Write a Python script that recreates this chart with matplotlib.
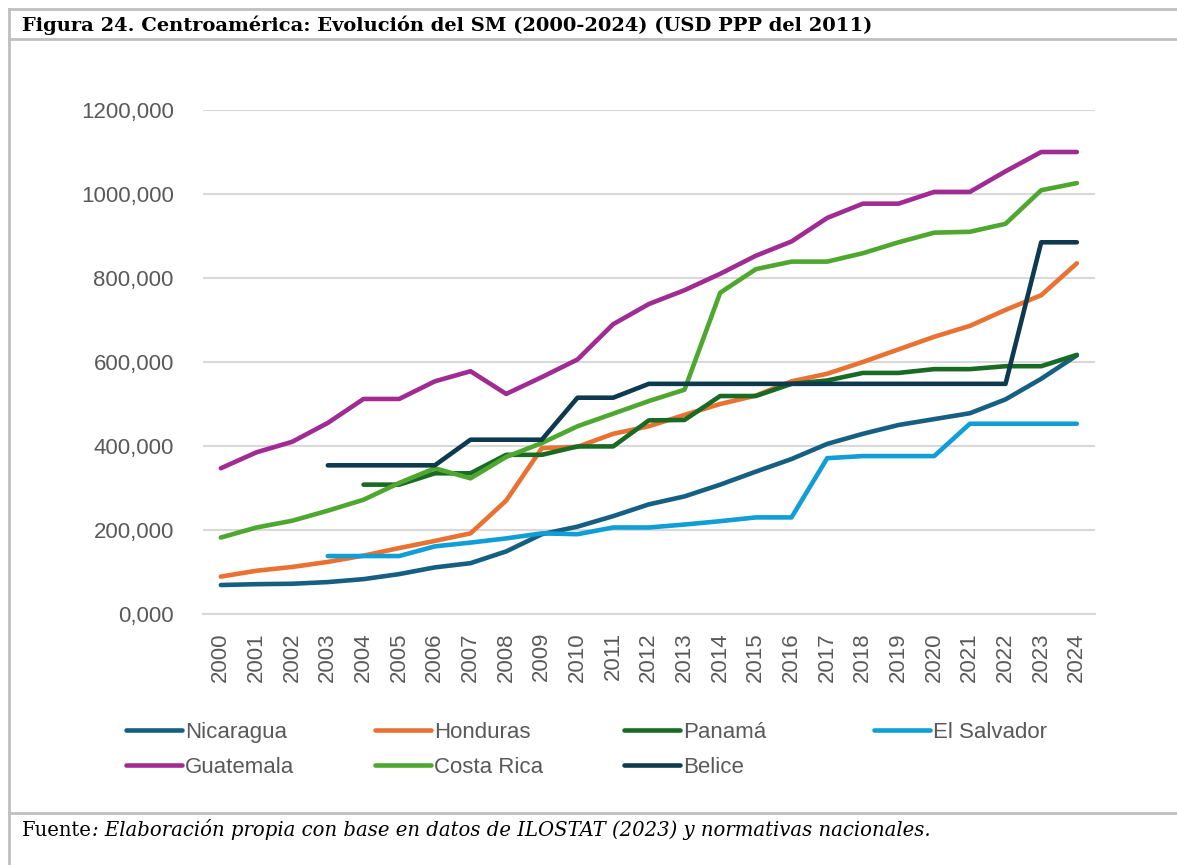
import numpy as np
import matplotlib.pyplot as plt
from matplotlib.lines import Line2D

nan = np.nan

#? Datos (USD PPP del 2011)
anios = [str(a) for a in range(2000, 2025)]
nicaragua = [69, 71, 72, 76, 83, 95, 111, 121, 149, 190, 208, 233, 261, 280, 308, 339, 369, 405, 429, 450, 464, 478, 511, 560, 616]
honduras = [89, 103, 112, 124, 139, 157, 174, 192, 270, 395, 398, 429, 447, 474, 500, 520, 554, 572, 600, 630, 660, 686, 724, 759, 835]
panama = [nan, nan, nan, nan, 308, 308, 335, 335, 379, 379, 399, 399, 461, 462, 519, 519, 548, 556, 574, 574, 583, 583, 590, 590, 617]
el_salvador = [nan, nan, nan, 138, 138, 138, 161, 170, 180, 192, 190, 206, 206, 213, 221, 230, 230, 371, 376, 376, 376, 453, 453, 453, 453]
guatemala = [347, 385, 410, 455, 512, 512, 554, 578, 524, 564, 606, 690, 738, 771, 810, 853, 887, 943, 977, 977, 1005, 1005, 1054, 1100, 1100]
costa_rica = [182, 206, 222, 246, 272, 312, 347, 323, 374, 407, 447, 477, 507, 534, 765, 821, 839, 839, 859, 885, 908, 910, 929, 1009, 1026]
belice = [nan, nan, nan, 354, 354, 354, 354, 415, 415, 415, 515, 515, 548, 548, 548, 548, 548, 548, 548, 548, 548, 548, 548, 885, 885]

paises = ["Nicaragua", "Honduras", "Panamá", "El Salvador", "Guatemala", "Costa Rica", "Belice"]
series = [nicaragua, honduras, panama, el_salvador, guatemala, costa_rica, belice]
colores = ["#156082", "#E97132", "#196B24", "#0F9ED5", "#A02B93", "#4EA72E", "#0D3A4E"]
y_ticks = [0, 200, 400, 600, 800, 1000, 1200]

gris_txt = "#595959"
sans = "Liberation Sans"
serif = "DejaVu Serif"

W, H = 1177, 865
fig = plt.figure(figsize=(W / 100, H / 100), dpi=100)
ax = fig.add_axes([203 / W, 1 - 614 / H, (1094.7 - 203) / W, (614 - 110) / H])

x = np.arange(len(anios))
lineas = []
for nombre, datos, color in zip(paises, series, colores):
    l, = ax.plot(x, datos, color=color, lw=3.3, solid_capstyle="round",
                 solid_joinstyle="round", label=nombre)
    lineas.append(l)

ax.set_xlim(-0.5, len(anios) - 0.5)
ax.set_ylim(0, 1200)
ax.set_yticks(y_ticks)
ax.set_yticklabels([f"{v:.3f}".replace(".", ",") for v in y_ticks])
ax.set_xticks(x)
ax.set_xticklabels(anios, rotation=90)
ax.tick_params(axis="both", length=0, labelsize=16, labelcolor=gris_txt)
ax.tick_params(axis="y", pad=21)
ax.tick_params(axis="x", pad=13)
for lab in ax.get_xticklabels() + ax.get_yticklabels():
    lab.set_fontfamily(sans)
ax.grid(axis="y", color="#D9D9D9", lw=1.5)
ax.set_axisbelow(True)
for s in ["top", "right", "left"]:
    ax.spines[s].set_visible(False)
ax.spines["bottom"].set_color("#D9D9D9")
ax.spines["bottom"].set_linewidth(1.5)

#? Leyenda en cuatro columnas iguales
columnas = [[0, 4], [1, 5], [2, 6], [3]]
x_col = [126, 375, 624, 874]
for idx, xc in zip(columnas, x_col):
    fig.legend(handles=[lineas[i] for i in idx], loc="upper left",
               bbox_to_anchor=(xc / W, 1 - 722 / H), frameon=False,
               borderpad=0, borderaxespad=0, handlelength=2.5,
               handletextpad=0.15, labelspacing=0.62,
               prop={"family": sans, "size": 16}, labelcolor=gris_txt)

#? Marco
borde = "#BFBFBF"
for yy in [9, 39, 813]:
    fig.add_artist(Line2D([9 / W, 1], [1 - yy / H] * 2, color=borde, lw=2))
fig.add_artist(Line2D([9 / W] * 2, [1 - 9 / H, 0], color=borde, lw=2))

fig.text(22 / W, 1 - 25 / H, "Figura 24. Centroamérica: Evolución del SM (2000-2024) (USD PPP del 2011)",
         fontsize=14.0, fontweight="bold", family=serif, va="center", ha="left")
t = fig.text(22 / W, 1 - 831 / H, "Fuente", fontsize=14.1, family=serif, va="center", ha="left")
ax.annotate(": Elaboración propia con base en datos de ILOSTAT (2023) y normativas nacionales.",
            xy=(1, 0), xycoords=t, va="bottom", ha="left", fontsize=14.1, family=serif,
            style="italic", annotation_clip=False)

fig.savefig("out.png", dpi=100)
